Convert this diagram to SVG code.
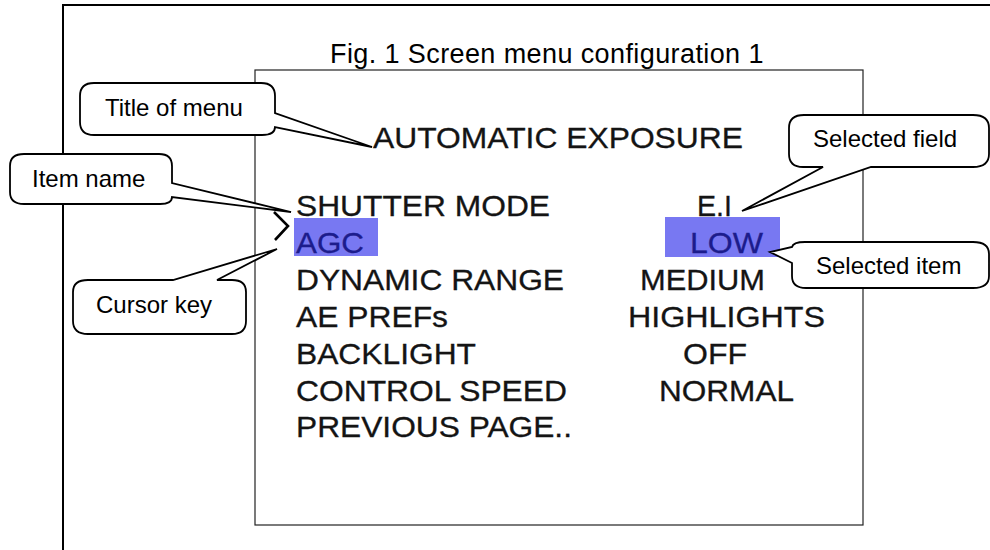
<svg xmlns="http://www.w3.org/2000/svg" width="990" height="550" viewBox="0 0 990 550">
<style>
.frame{fill:none;stroke:#000;stroke-width:2}
.screen{fill:#fff;stroke:#222;stroke-width:1.2}
.callout{fill:#fff;stroke:#000;stroke-width:1.8;stroke-linejoin:miter}
.ct{font-family:"Liberation Sans",Arial,sans-serif;font-size:24px;fill:#000}
.menu{font-family:"Liberation Sans",Arial,sans-serif;font-size:29.5px;fill:#141414;stroke:#141414;stroke-width:0.3}
.sel{fill:#1c1c8c;stroke:#1c1c8c}
.hl{fill:#7878f2}
.fig{font-family:"Liberation Sans",Arial,sans-serif;font-size:27px;letter-spacing:0.4px;fill:#000}
</style>
<rect width="990" height="550" fill="#fff"/>
<g id="frame">
<path class="frame" d="M63,550 V5 H990"/>
</g>
<g id="figure-title">
<text class="fig" x="330" y="63">Fig. 1 Screen menu configuration 1</text>
</g>
<g id="screen">
<rect class="screen" x="255" y="70" width="608" height="455"/>
<rect class="hl" x="294" y="218" width="84" height="38"/>
<rect class="hl" x="665" y="217" width="115" height="40"/>
<text class="menu" x="373" y="148" textLength="370" lengthAdjust="spacingAndGlyphs">AUTOMATIC EXPOSURE</text>
<text class="menu" x="296" y="216" textLength="254" lengthAdjust="spacingAndGlyphs">SHUTTER MODE</text>
<text class="menu sel" x="296" y="252.5" textLength="68" lengthAdjust="spacingAndGlyphs">AGC</text>
<text class="menu" x="296" y="290" textLength="268" lengthAdjust="spacingAndGlyphs">DYNAMIC RANGE</text>
<text class="menu" x="296" y="326.5" textLength="152" lengthAdjust="spacingAndGlyphs">AE PREFs</text>
<text class="menu" x="296" y="364" textLength="180" lengthAdjust="spacingAndGlyphs">BACKLIGHT</text>
<text class="menu" x="296" y="401" textLength="271" lengthAdjust="spacingAndGlyphs">CONTROL SPEED</text>
<text class="menu" x="296" y="437" textLength="276" lengthAdjust="spacingAndGlyphs">PREVIOUS PAGE..</text>
<text class="menu" x="697" y="216" textLength="35" lengthAdjust="spacingAndGlyphs">E.I</text>
<text class="menu sel" x="690" y="252.5" textLength="73" lengthAdjust="spacingAndGlyphs">LOW</text>
<text class="menu" x="640" y="290" textLength="125" lengthAdjust="spacingAndGlyphs">MEDIUM</text>
<text class="menu" x="628" y="326.5" textLength="197" lengthAdjust="spacingAndGlyphs">HIGHLIGHTS</text>
<text class="menu" x="683" y="364" textLength="64" lengthAdjust="spacingAndGlyphs">OFF</text>
<text class="menu" x="659" y="401" textLength="135" lengthAdjust="spacingAndGlyphs">NORMAL</text>
</g>
<g id="cursor">
<polyline points="274,212 288,226 275,240" fill="none" stroke="#000" stroke-width="2.6"/>
</g>
<g id="connectors">
</g>
<g id="callout-title">
<path class="callout" d="M94,83 H261 Q275,83 275,96 V113 L372,147 L275,127 Q275,135 262,135 H94 Q80,135 80,122 V96 Q80,83 94,83 Z"/>
<text class="ct" x="105" y="116">Title of menu</text>
</g>
<g id="callout-item">
<path class="callout" d="M24,154 H159 Q172,154 172,166 V183 L291,212 L172,197 Q172,204 160,204 H24 Q10,204 10,192 V166 Q10,154 24,154 Z"/>
<text class="ct" x="32" y="186.5">Item name</text>
</g>
<g id="callout-cursor">
<path class="callout" d="M88,280 H173 L277,249 L217,280 H232 Q246,280 246,292 V321 Q246,334 232,334 H88 Q73,334 73,321 V292 Q73,280 88,280 Z"/>
<text class="ct" x="96" y="312.5">Cursor key</text>
</g>
<g id="callout-field">
<path class="callout" d="M804,115 H973 Q989,115 989,128 V154 Q989,167 973,167 H871 L742,211 L823,167 H803 Q789,167 789,154 V128 Q789,115 804,115 Z"/>
<text class="ct" x="813" y="147">Selected field</text>
</g>
<g id="callout-selitem">
<path class="callout" d="M805,242 H973 Q989,242 989,254 V276 Q989,288 973,288 H806 Q792,288 792,276 V263 L770,252 L792,247 Q793,242 805,242 Z"/>
<text class="ct" x="816" y="274">Selected item</text>
</g>
</svg>
